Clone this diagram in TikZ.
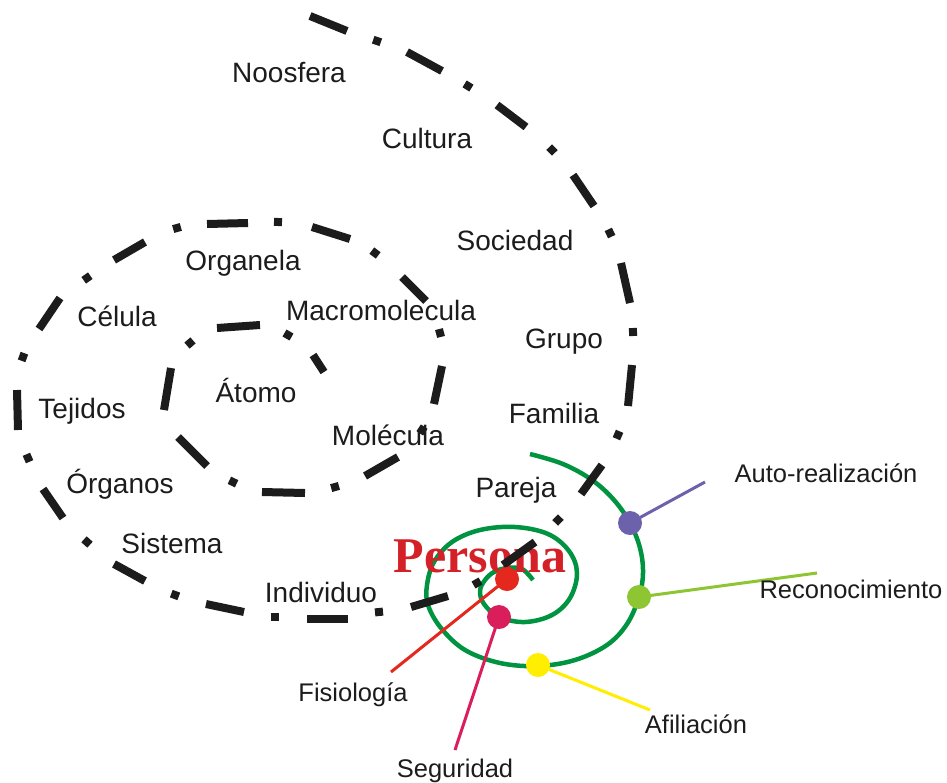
\documentclass[tikz,border=0pt]{standalone}
\usepackage{fontspec}
\setmainfont{Liberation Sans}
\newfontfamily\titleserif{Liberation Serif}
\usetikzlibrary{calc}

\definecolor{ink}{RGB}{28,28,28}
\definecolor{spiralgreen}{RGB}{0,148,64}
\definecolor{personared}{RGB}{212,32,39}
\definecolor{needred}{RGB}{228,40,30}
\definecolor{needpink}{RGB}{218,30,92}
\definecolor{needyellow}{RGB}{255,238,0}
\definecolor{needlime}{RGB}{141,198,50}
\definecolor{needviolet}{RGB}{108,98,172}

\begin{document}
\begin{tikzpicture}[x=1pt,y=-1pt,
  level/.style={font=\fontsize{28}{30}\selectfont, text=ink, anchor=base, inner sep=0pt},
  needlabel/.style={font=\fontsize{25.5}{28}\selectfont, text=ink, anchor=base, inner sep=0pt},
  dashseg/.style={line width=8pt, draw=ink},
  stem/.style={line width=3pt},
  bead/.style={circle, minimum size=24pt, inner sep=0pt},
]
\useasboundingbox (0,0) rectangle (947,782);

% green spiral of needs
\draw[spiralgreen, line width=4.5pt] plot[smooth, tension=0.6] coordinates {
  (530,454) (563,464) (592,480) (614,500) (630,523) (640,548) (643,573)
  (639,597) (627,624) (607,645) (575,660) (538,666) (500,663) (465,650)
  (441,628) (428,605) (427,585) (434,562) (452,542) (480,530) (515,527)
  (548,534) (569,551) (577,573) (570,598) (552,615) (525,622) (499,617)
  (484,604) (480,591) (485,580) (494,572) (507,568) (522,569) (533,580)};

% central word
\node[font=\titleserif\bfseries\fontsize{50}{52}\selectfont, text=personared,
      anchor=base, inner sep=0pt] (persona) at (480,572) {Persona};

% dash-dot spiral of levels: dashes
\foreach \xa/\ya/\xb/\yb in {
  310/16/347/31, 407/52/442/71, 497/105/526/127, 573/175/594/206,
  621/263/630/303, 632/365/628/406, 602/465/581/494, 535/542/503/565,
  448/596/411/607, 348/619/307/619, 244/612/206/604, 145/581/114/564,
  63/518/43/489, 18/430/17/390, 39/329/60/298, 114/260/145/242,
  207/224/248/223, 312/227/350/239, 402/277/426/301, 442/366/434/404,
  398/457/365/476, 305/493/262/492, 207/466/178/437, 164/410/171/368,
  217/328/260/325, 313/355/324/372}
  \draw[dashseg] (\xa,\ya) -- (\xb,\yb);

% dash-dot spiral of levels: dots
\foreach \xa/\ya/\xb/\yb in {
  373.2/39.7/380.8/42.3, 464.6/83.9/471.4/88.1, 549.2/147.1/554.8/152.9,
  608.3/229.4/611.7/236.6, 632.9/328/633.1/336, 619.6/431.3/616.4/438.7,
  560.8/517.1/555.2/522.9, 480.5/581/473.5/585, 383/611.6/375/612.4,
  279/617/271/617, 178.8/596.4/171.3/593.6, 90/544.7/84/539.3,
  29.6/461.7/26.4/454.3, 21.6/360.8/24.4/353.2, 83.7/280.3/90.3/275.7,
  173.2/229.1/180.8/226.9, 274/221.75/282/222.25, 371.8/250.6/378.2/255.4,
  439/329.1/441/336.9, 424.2/426.7/419.8/433.3, 338.9/485.9/331.2/488.1,
  236.6/483.7/229.4/480.3, 187/345.6/193/340.4, 284.5/333/291.5/337}
  \draw[dashseg] (\xa,\ya) -- (\xb,\yb);

% level labels
\node[level] (noosfera) at (289,82) {Noosfera};
\node[level] (cultura) at (427,148) {Cultura};
\node[level] (sociedad) at (515,250) {Sociedad};
\node[level] (grupo) at (564,348) {Grupo};
\node[level] (familia) at (554,423) {Familia};
\node[level] (pareja) at (516,497) {Pareja};
\node[level] (individuo) at (321,602) {Individuo};
\node[level] (sistema) at (172,553) {Sistema};
\node[level] (organos) at (120,493) {Órganos};
\node[level] (tejidos) at (82,418) {Tejidos};
\node[level] (celula) at (117,326) {Célula};
\node[level] (organela) at (243,270) {Organela};
\node[level] (macro) at (381,320) {Macromolecula};
\node[level] (molecula) at (388,445) {Molécula};
\node[level] (atomo) at (256,402) {Átomo};

% needs: bead positions and free stem ends
\coordinate (pViolet) at (630,523);
\coordinate (pLime) at (639,597);
\coordinate (pYellow) at (538,665);
\coordinate (pPink) at (499,617);
\coordinate (pRed) at (507,579);
\coordinate (eViolet) at (705,482);
\coordinate (eLime) at (817,573);
\coordinate (eYellow) at (650,710);
\coordinate (ePink) at (455,750);
\coordinate (eRed) at (391,672);

\draw[stem, needviolet] (pViolet) -- (eViolet);
\draw[stem, needlime] (pLime) -- (eLime);
\draw[stem, needyellow] (pYellow) -- (eYellow);
\draw[stem, needpink] (pPink) -- (ePink);
\draw[stem, needred] (pRed) -- (eRed);

\node[bead, fill=needviolet] (bViolet) at (pViolet) {};
\node[bead, fill=needlime] (bLime) at (pLime) {};
\node[bead, fill=needyellow] (bYellow) at (pYellow) {};
\node[bead, fill=needpink] (bPink) at (pPink) {};
\node[bead, fill=needred] (bRed) at (pRed) {};

% need labels
\node[needlabel] (auto) at (826,482) {Auto-realización};
\node[needlabel] (recon) at (851,598) {Reconocimiento};
\node[needlabel] (afil) at (696,733) {Afiliación};
\node[needlabel] (segur) at (455,777) {Seguridad};
\node[needlabel] (fisio) at (353,701) {Fisiología};
\end{tikzpicture}
\end{document}
